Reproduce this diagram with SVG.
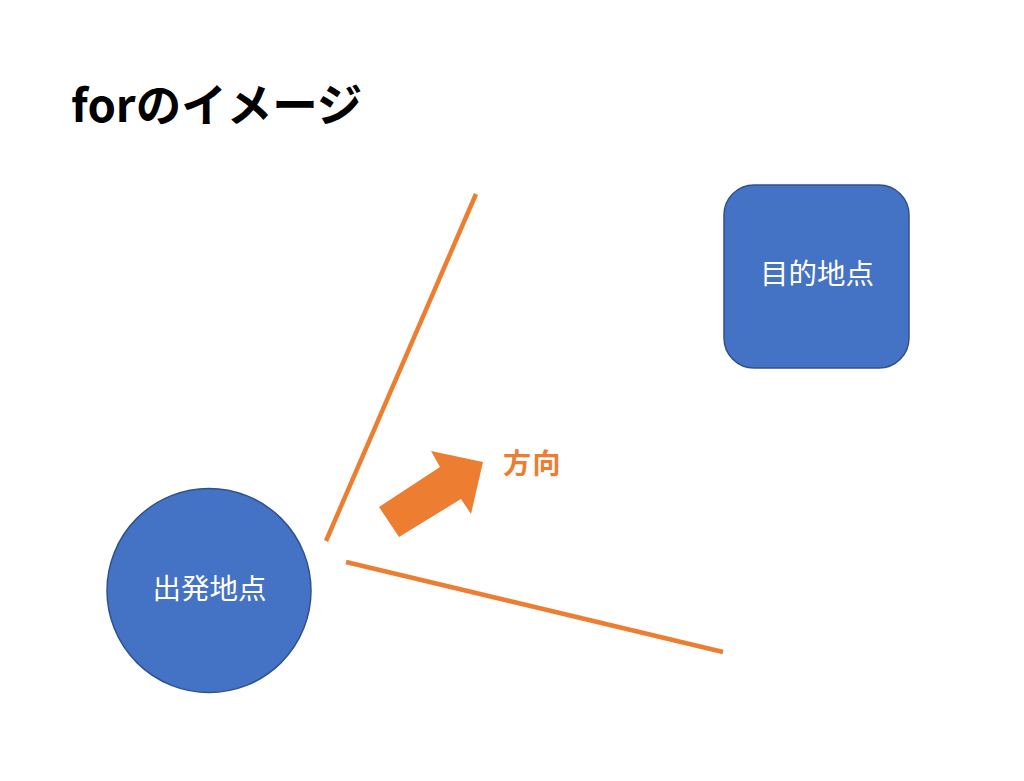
<svg xmlns="http://www.w3.org/2000/svg" width="1024" height="781" viewBox="0 0 1024 781">
<style>
.node{fill:#4472C4;stroke:#2F528F;stroke-width:1.5}
.lbl{font-family:"Noto Sans CJK JP","Noto Sans",sans-serif;font-size:28.5px;fill:#ffffff;text-anchor:middle}
.ray{stroke:#ED7D31;stroke-width:4.5;fill:none}
</style>
<rect width="1024" height="781" fill="#ffffff"/>
<text x="71" y="122" font-family="'Noto Sans CJK JP','Noto Sans',sans-serif" font-size="45.5" font-weight="bold" fill="#000000">forのイメージ</text>
<g id="connectors">
<line class="ray" x1="326" y1="541" x2="476" y2="194"/>
<line class="ray" x1="346" y1="562" x2="723" y2="652"/>
<polygon points="379,507 399,537 461,499 471,514 483,462 431,451 440,467" fill="#ED7D31"/>
<text x="503" y="474" font-family="'Noto Sans CJK JP','Noto Sans',sans-serif" font-size="28" font-weight="bold" letter-spacing="1.5" fill="#ED7D31">方向</text>
</g>
<g id="start">
<circle class="node" cx="209" cy="590.5" r="102"/>
<text class="lbl" x="209.5" y="599">出発地点</text>
</g>
<g id="goal">
<rect class="node" x="724" y="185" width="185" height="183" rx="30"/>
<text class="lbl" x="817" y="284">目的地点</text>
</g>
</svg>
